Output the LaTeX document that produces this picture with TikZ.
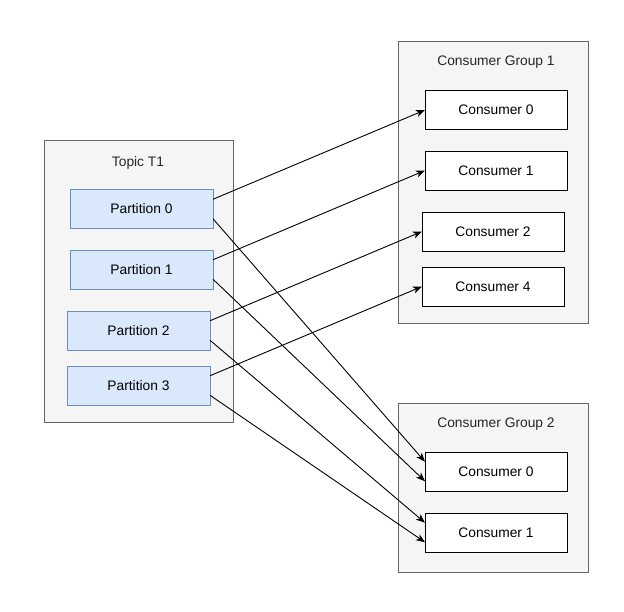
\documentclass[tikz,border=0pt]{standalone}
\usepackage{fontspec}
\setmainfont{Liberation Sans}
\usetikzlibrary{calc,arrows.meta}
\begin{document}
\begin{tikzpicture}[x=1pt,y=-1pt,
  every node/.style={inner sep=0pt,outer sep=0pt,font=\fontsize{13.8}{16}\selectfont},
  container/.style={draw=black!60,fill=black!4,line width=1pt,minimum width=190pt},
  part/.style={draw=blue!40!gray!90!white,draw={rgb,255:red,108;green,142;blue,191},fill={rgb,255:red,218;green,232;blue,252},line width=1pt,minimum width=143pt,minimum height=39pt},
  cons/.style={draw=black,fill=white,line width=1pt,minimum width=142pt,minimum height=39pt},
  conn/.style={draw=black,line width=0.9pt,-{Stealth[length=9pt,width=7pt,inset=2.5pt]}},
  lbl/.style={text=black!85}
]
\useasboundingbox (0,0) rectangle (624,611);
% containers
\node[container,minimum width=189pt,minimum height=282pt] (topic) at (138.5,281.5) {};
\node[lbl] (topiclbl) at (138,162.5) {Topic T1};
\node[container,minimum height=282pt] (g1) at (493,182) {};
\node[lbl] (g1lbl) at (496,62.5) {Consumer Group 1};
\node[container,minimum height=169pt] (g2) at (493,487.5) {};
\node[lbl] (g2lbl) at (496,424.5) {Consumer Group 2};
% partitions
\node[part] (p0) at (141.5,209) {Partition 0};
\node[part] (p1) at (141.5,269.5) {Partition 1};
\node[part] (p2) at (138.5,330.5) {Partition 2};
\node[part] (p3) at (138.5,385.5) {Partition 3};
% consumers group 1
\node[cons] (a0) at (496,110) {Consumer 0};
\node[cons] (a1) at (496,170.5) {Consumer 1};
\node[cons] (a2) at (493,231.5) {Consumer 2};
\node[cons] (a4) at (493,286.5) {Consumer 4};
% consumers group 2
\node[cons] (b0) at (496,471.5) {Consumer 0};
\node[cons] (b1) at (496,532.5) {Consumer 1};
% connectors
\foreach \p/\t in {p0/a0,p1/a1,p2/a2,p3/a4}{
  \draw[conn] ($(\p.north east)!0.25!(\p.south east)$) -- (\t.west);
}
\draw[conn] ($(p0.north east)!0.75!(p0.south east)$) -- ($(b0.north west)!0.25!(b0.south west)$);
\draw[conn] ($(p1.north east)!0.75!(p1.south east)$) -- ($(b0.north west)!0.75!(b0.south west)$);
\draw[conn] ($(p2.north east)!0.75!(p2.south east)$) -- ($(b1.north west)!0.25!(b1.south west)$);
\draw[conn] ($(p3.north east)!0.75!(p3.south east)$) -- ($(b1.north west)!0.75!(b1.south west)$);
\end{tikzpicture}
\end{document}
